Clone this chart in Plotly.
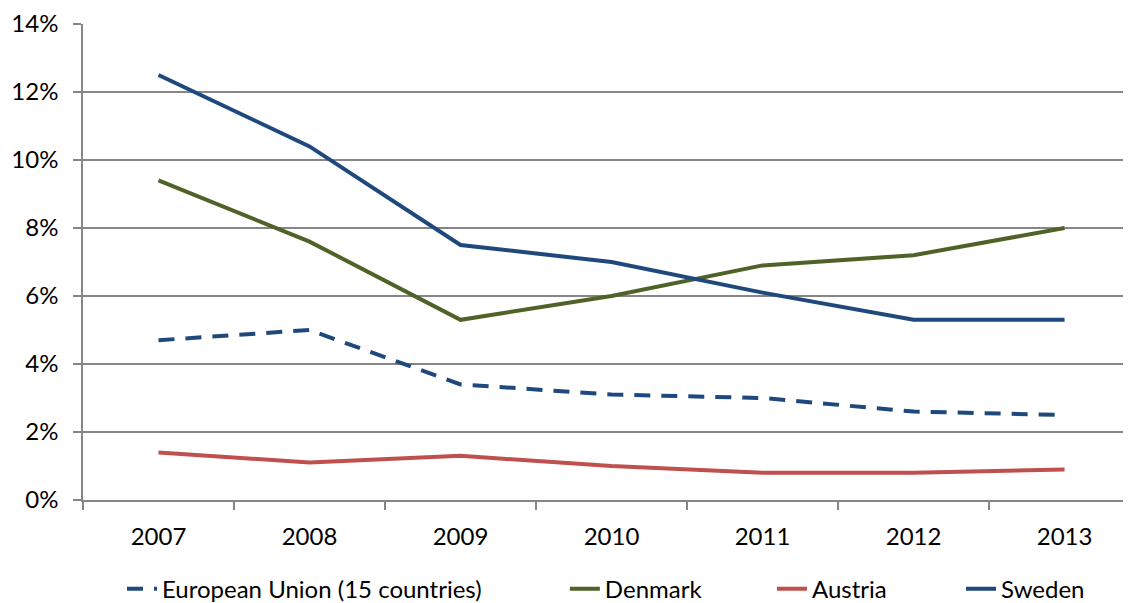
import plotly.graph_objects as go

years = ["2007", "2008", "2009", "2010", "2011", "2012", "2013"]
eu15 = [4.7, 5.0, 3.4, 3.1, 3.0, 2.6, 2.5]
denmark = [9.4, 7.6, 5.3, 6.0, 6.9, 7.2, 8.0]
austria = [1.4, 1.1, 1.3, 1.0, 0.8, 0.8, 0.9]
sweden = [12.5, 10.4, 7.5, 7.0, 6.1, 5.3, 5.3]

series = [
    ("European Union (15 countries)", eu15, "#1F497D", "16px,11px", "legend", 0.0372),
    ("Denmark", denmark, "#4F6228", "solid", "legend2", 0.4598),
    ("Austria", austria, "#C0504D", "solid", "legend3", 0.6574),
    ("Sweden", sweden, "#1F497D", "solid", "legend4", 0.8378),
]

font = "Lato, 'Open Sans', sans-serif"
fig = go.Figure()
legends = {}
for name, vals, color, dash, lg, lx in series:
    fig.add_trace(go.Scatter(
        x=years, y=[v / 100 for v in vals], name=name, mode="lines",
        line=dict(color=color, width=4, dash=dash), legend=lg,
    ))
    legends[lg] = dict(orientation="h", x=lx, xanchor="left", y=-0.14, yanchor="top",
                       font=dict(size=24, family=font), bgcolor="rgba(0,0,0,0)")

fig.update_layout(
    width=1123, height=595,
    margin=dict(l=75, r=0, t=16, b=103, autoexpand=False),
    paper_bgcolor="white", plot_bgcolor="white",
    font=dict(family=font, size=24, color="#000000"),
    showlegend=True,
    xaxis=dict(type="category", tickson="boundaries", ticks="outside", ticklen=8,
               tickcolor="#868686", tickwidth=1.5, showgrid=False,
               showline=True, linecolor="#868686", linewidth=1.5, automargin=False,
               range=[-0.5, 6.44], tickfont=dict(size=24), ticklabelstandoff=14),
    yaxis=dict(range=[0, 0.14], dtick=0.02, tickformat=".0%", showgrid=True,
               gridcolor="#868686", gridwidth=1.5, ticks="outside", ticklen=8,
               tickcolor="#868686", tickwidth=1.5, showline=True, automargin=False,
               linecolor="#868686", linewidth=1.5, zeroline=False,
               tickfont=dict(size=24), ticklabelstandoff=10),
    **legends,
)

fig.write_html("out.html")
